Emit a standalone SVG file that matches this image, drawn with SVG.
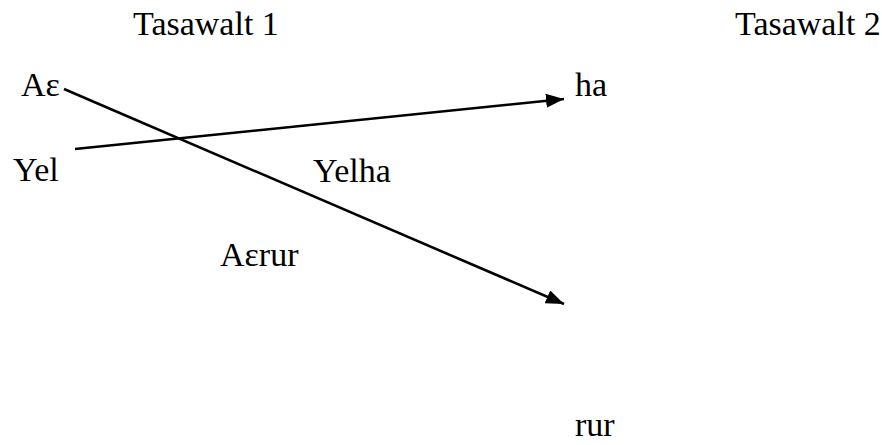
<svg xmlns="http://www.w3.org/2000/svg" width="882" height="445" viewBox="0 0 882 445">
<style>
text{font-family:"Liberation Serif","Times New Roman",serif;font-size:34px;fill:#000}
.c{stroke:#000;stroke-width:2.6;fill:none}
</style>
<defs>
<marker id="ah" markerUnits="userSpaceOnUse" markerWidth="18" markerHeight="14" viewBox="0 0 18 14" refX="18" refY="7" orient="auto">
<path d="M0,0 L18,7 L0,14 Z" fill="#000"/>
</marker>
</defs>
<rect width="882" height="445" fill="#fff"/>
<g id="header1"><text x="133" y="35">Tasawalt 1</text></g>
<g id="header2"><text x="735" y="35">Tasawalt 2</text></g>
<g id="n-ae"><text x="21" y="96">Aε</text></g>
<g id="n-yel"><text x="13" y="181">Yel</text></g>
<g id="n-yelha"><text x="313" y="182">Yelha</text></g>
<g id="n-aerur"><text x="220" y="266">Aεrur</text></g>
<g id="n-ha"><text x="575" y="96">ha</text></g>
<g id="n-rur"><text x="575" y="436">rur</text></g>
<g id="connectors">
<line class="c" x1="64" y1="89" x2="564" y2="304" marker-end="url(#ah)"/>
<line class="c" x1="75" y1="149" x2="564" y2="99" marker-end="url(#ah)"/>
</g>
</svg>
